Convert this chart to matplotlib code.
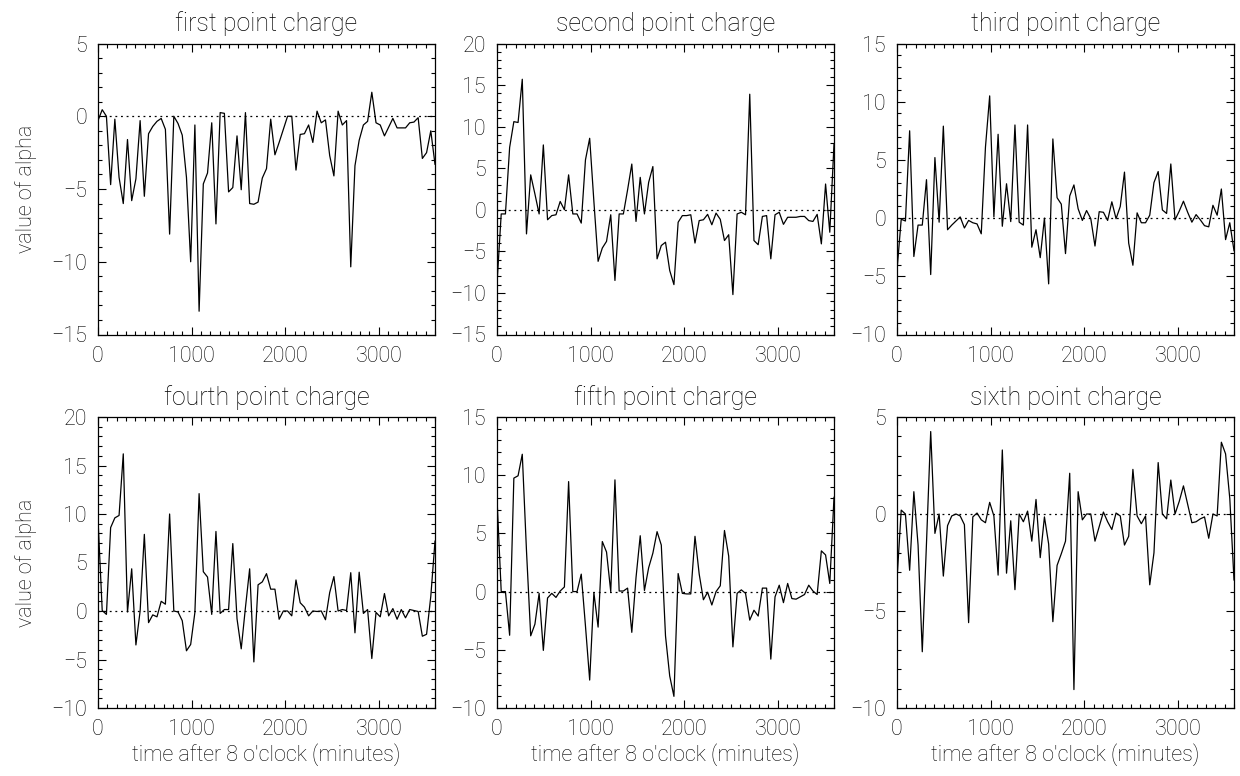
import numpy as np
import matplotlib
matplotlib.use("Agg")
import matplotlib.pyplot as plt
from matplotlib.ticker import MultipleLocator

# time axis: one sample every 45 minutes
time_min = np.arange(81) * 45

titles = ["first point charge", "second point charge", "third point charge",
          "fourth point charge", "fifth point charge", "sixth point charge"]

alpha_1 = [-0.3, 0.45, 0.0, -4.7, -0.2, -4.2, -6.0, -1.6, -5.8, -4.3,
           -0.3, -5.5, -1.2, -0.7, -0.35, -0.15, -0.9, -8.1, 0.0, -0.5,
           -1.3, -4.2, -10.0, -0.6, -13.4, -4.65, -3.9, -0.45, -7.4, 0.25,
           0.2, -5.2, -4.9, -1.35, -5.05, 0.25, -6.0, -6.05, -5.9, -4.25,
           -3.6, -0.2, -2.65, -1.8, -0.9, 0.0, 0.0, -3.7, -1.25, -1.2,
           -0.6, -1.8, 0.35, -0.45, -0.25, -2.7, -4.1, 0.35, -0.6, -0.3,
           -10.35, -3.4, -1.65, -0.6, -0.35, 1.65, -0.45, -0.6, -1.35, -0.75,
           -0.15, -0.8, -0.8, -0.8, -0.45, -0.4, -0.1, -2.9, -2.5, -1.0,
           -3.3]

alpha_2 = [-8.9, -0.5, -0.5, 7.5, 10.6, 10.5, 15.7, -2.9, 4.2, 1.9,
           -0.5, 7.8, -1.2, -0.7, -0.6, 1.0, 0.0, 4.2, -0.5, -0.5,
           -1.6, 6.0, 8.6, 1.0, -6.2, -4.6, -3.8, -0.6, -8.5, -0.5,
           -0.5, 2.4, 5.5, -1.4, 3.9, -0.5, 3.3, 5.2, -5.9, -4.3,
           -3.9, -7.3, -9.0, -1.5, -0.7, -0.7, -0.6, -4.0, -1.3, -1.2,
           -0.55, -1.8, -0.4, -1.15, -3.7, -3.0, -10.2, -0.5, -0.3, -0.6,
           13.9, -3.7, -4.2, -0.8, -0.7, -5.9, -0.6, -0.3, -1.75, -0.9,
           -0.9, -0.9, -0.8, -0.8, -1.3, -1.4, -0.55, -4.1, 3.1, -2.7,
           7.9]

alpha_3 = [-4.5, -0.1, -0.25, 7.5, -3.3, -0.6, -0.6, 3.3, -4.85, 5.2,
           -0.35, 7.9, -1.0, -0.6, -0.25, 0.1, -0.85, -0.2, -0.4, -0.5,
           -1.35, 6.1, 10.5, 0.1, 7.2, -0.7, 2.95, -0.3, 8.0, -0.35,
           -0.6, 8.0, -2.5, -1.0, -3.4, 0.0, -5.65, 6.8, 1.75, 1.2,
           -3.05, 1.9, 2.85, 0.8, -0.2, 0.65, -0.05, -2.4, 0.55, 0.5,
           -0.2, 1.4, -0.05, 1.0, 3.95, -2.15, -4.05, 0.45, -0.4, -0.4,
           0.25, 3.05, 4.0, 0.7, 0.4, 4.65, -0.15, 0.6, 1.45, 0.5,
           -0.35, 0.3, -0.15, -0.65, -0.75, 1.1, 0.25, 2.5, -1.85, -0.4,
           -2.8]

alpha_4 = [9.5, 0.05, -0.35, 8.6, 9.6, 9.85, 16.2, -0.1, 4.35, -3.5,
           0.0, 7.9, -1.2, -0.4, -0.6, 1.0, 0.7, 10.0, 0.0, -0.1,
           -1.0, -4.1, -3.45, -0.15, 12.1, 4.05, 3.5, -0.35, 8.2, -0.25,
           0.15, 0.15, 6.95, -0.8, -3.9, 0.35, 4.35, -5.25, 2.7, 3.0,
           3.85, 2.25, 2.25, -0.85, 0.0, 0.0, -0.5, 3.2, 0.85, 0.4,
           -0.5, 0.0, -0.05, 0.0, -0.9, 1.9, 3.55, 0.0, 0.15, 0.05,
           3.95, -2.25, 4.0, -0.25, 0.15, -4.9, -0.15, -0.6, 1.8, -0.5,
           0.25, -0.85, 0.15, -0.7, 0.15, 0.05, -0.05, -2.6, -2.4, 1.5,
           7.2]

alpha_5 = [8.0, 0.0, 0.0, -3.75, 9.75, 9.95, 11.8, 3.5, -3.8, -2.8,
           -0.15, -5.05, -0.55, -0.15, -0.5, 0.05, 0.4, 9.45, 0.0, 0.0,
           1.5, -2.95, -7.6, -0.1, -3.05, 4.3, 3.4, 0.0, 9.6, 0.05,
           0.05, 0.3, -3.5, 1.2, 4.8, 0.1, 2.05, 3.3, 5.15, 4.0,
           -3.8, -7.25, -9.0, 1.55, -0.15, -0.2, -0.2, 4.75, 1.5, -0.7,
           -0.05, -1.15, 0.0, 0.5, 5.25, 3.05, -4.75, -0.15, 0.15, -0.15,
           -2.45, -1.6, -2.1, 0.3, 0.3, -5.8, -0.45, 0.55, -0.95, 0.7,
           -0.6, -0.65, -0.45, -0.25, 0.55, 0.05, -0.25, 3.5, 3.15, 0.7,
           8.1]

alpha_6 = [-3.4, 0.2, 0.0, -2.9, 1.15, -1.6, -7.1, -1.5, 4.25, -1.0,
           0.0, -3.2, -0.6, -0.1, 0.0, -0.1, -0.55, -5.6, -0.15, 0.05,
           -0.3, -0.45, 0.6, -0.1, -3.15, 3.3, -3.05, -0.35, -3.9, 0.0,
           -0.4, 0.15, -1.4, 0.75, -2.25, -0.15, -1.55, -5.55, -2.65, -2.05,
           -1.4, 2.1, -9.05, 1.15, -0.3, 0.0, 0.0, -1.4, -0.65, 0.1,
           -0.4, -0.8, 0.05, -0.1, -1.6, -1.15, 2.3, -0.1, -0.5, -0.1,
           -3.65, -2.0, 2.65, 0.0, -0.25, 1.75, 0.0, 0.65, 1.45, 0.5,
           -0.45, -0.4, -0.25, -0.15, -1.25, 0.0, -0.1, 3.7, 3.1, 0.8,
           -3.4]

series = [alpha_1, alpha_2, alpha_3, alpha_4, alpha_5, alpha_6]
y_limits = [(-15, 5), (-15, 20), (-10, 15), (-10, 20), (-10, 15), (-10, 5)]

# thin lettering, close to the plotting package's vector font
plt.rcParams["font.family"] = ["Roboto", "DejaVu Sans"]
plt.rcParams["font.weight"] = "light"
plt.rcParams["axes.titleweight"] = "light"
plt.rcParams["axes.labelweight"] = "light"

fig = plt.figure(figsize=(12.4, 7.76), dpi=100)

lefts = [98, 497, 897]
tops = [43.5, 417]
w_px, h_px = 337, 291

for k in range(6):
    row, col = divmod(k, 3)
    ax = fig.add_axes([lefts[col] / 1240, 1 - (tops[row] + h_px) / 776,
                       w_px / 1240, h_px / 776])
    ax.plot(time_min, series[k], color="black", lw=0.9)
    ax.axhline(0, color="black", lw=0.9, ls=(0, (1.5, 3)))
    ax.set_xlim(0, 3600)
    ax.set_ylim(*y_limits[k])
    ax.xaxis.set_major_locator(MultipleLocator(1000))
    ax.xaxis.set_minor_locator(MultipleLocator(100))
    ax.yaxis.set_major_locator(MultipleLocator(5))
    ax.yaxis.set_minor_locator(MultipleLocator(1))
    ax.tick_params(which="both", direction="in", top=True, right=True,
                   width=0.8, labelsize=15.5, colors="black")
    ax.tick_params(which="major", length=6, pad=8)
    ax.tick_params(which="minor", length=3)
    for sp in ax.spines.values():
        sp.set_linewidth(0.9)
    ax.set_title(titles[k], fontsize=18, pad=9, color="black", fontweight="light")
    if col == 0:
        ax.set_ylabel("value of alpha", fontsize=15.5, labelpad=10, fontweight="light")
    if row == 1:
        ax.set_xlabel("time after 8 o'clock (minutes)", fontsize=15.5, labelpad=2,
                      fontweight="light")

plt.savefig("out.png", dpi=100)
